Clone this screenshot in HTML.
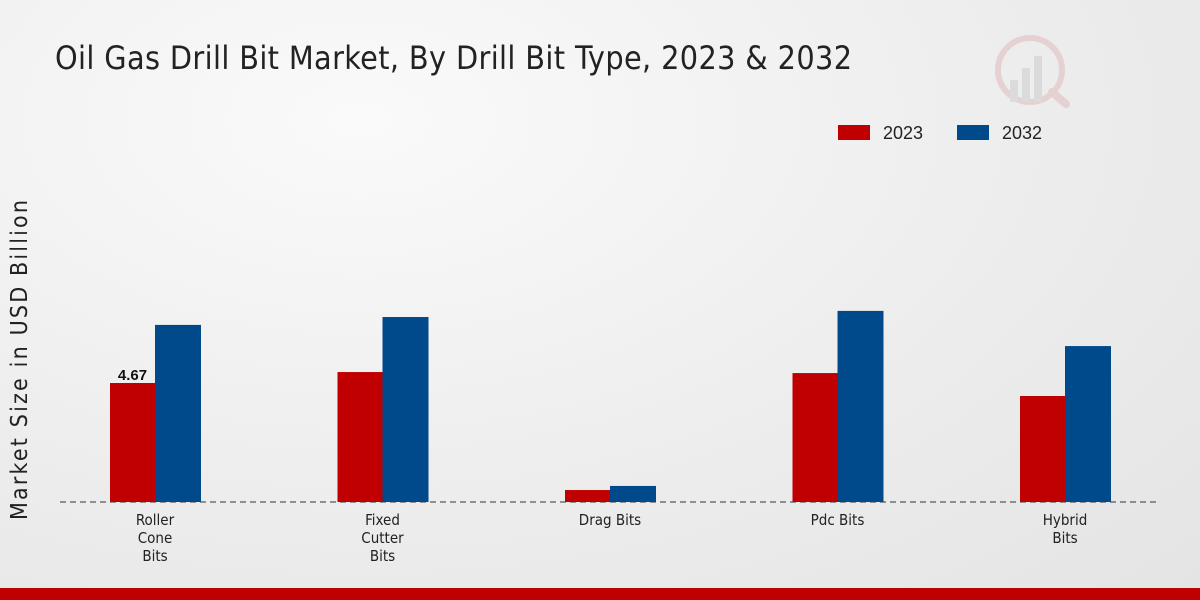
<!DOCTYPE html>
<html><head><meta charset="utf-8"><style>
body{margin:0;width:1200px;height:600px;overflow:hidden;font-family:"Liberation Sans",sans-serif;}
#bg{position:absolute;left:0;top:0;width:1200px;height:600px;background:radial-gradient(ellipse at 30% 20%,#fafafa 0%,#ececec 60%,#e4e4e4 100%);}
</style></head><body>
<div id="bg"></div>
<svg id="c" width="1200" height="600" style="position:absolute;left:0;top:0">
<text x="55" y="69" font-size="32" fill="#222" textLength="797" font-family="DejaVu Sans Condensed, Liberation Sans, sans-serif">Oil Gas Drill Bit Market, By Drill Bit Type, 2023 &amp; 2032</text>
<text transform="translate(27,360) rotate(-90)" text-anchor="middle" font-size="23" fill="#222" textLength="320" font-family="DejaVu Sans Condensed, Liberation Sans, sans-serif">Market Size in USD Billion</text>
<g>
<rect x="838" y="125" width="32" height="15" fill="#c00000"/>
<text x="883" y="139" font-size="18" fill="#222">2023</text>
<rect x="957" y="125" width="32" height="15" fill="#004a8c"/>
<text x="1002" y="139" font-size="18" fill="#222">2032</text>
</g>
<g opacity="0.35">
<circle cx="1030" cy="70" r="32" fill="none" stroke="#d9a0a0" stroke-width="6"/>
<rect x="1010" y="80" width="8" height="22" fill="#bbb"/><rect x="1022" y="68" width="8" height="34" fill="#bbb"/><rect x="1034" y="56" width="8" height="46" fill="#bbb"/>
<line x1="1052" y1="92" x2="1066" y2="104" stroke="#d9a0a0" stroke-width="8" stroke-linecap="round"/>
</g>
<line x1="60" y1="502" x2="1160" y2="502" stroke="#333" stroke-dasharray="6,4"/>
<g id="bars"></g>
<rect x="0" y="588" width="1200" height="12" fill="#c00000"/>
</svg>
<script>
const categories=[["Roller","Cone","Bits"],["Fixed","Cutter","Bits"],["Drag Bits"],["Pdc Bits"],["Hybrid","Bits"]];
const values2023=[4.67,5.1,0.47,5.06,4.16];
const values2032=[6.95,7.26,0.63,7.5,6.12];
const labels2023=["4.67","","","",""];
const ns="http://www.w3.org/2000/svg";
const g=document.getElementById('bars');
const y=v=>502-v*25.48;
const xc=i=>155+i*227.5;
function mk(t,a){const e=document.createElementNS(ns,t);for(const k in a)e.setAttribute(k,a[k]);g.appendChild(e);return e;}
categories.forEach((c,i)=>{
 const r1=mk('rect',{x:xc(i)-45,y:y(values2023[i]),width:45,height:502-y(values2023[i]),fill:'#c00000'});
 
 
 const r2=mk('rect',{x:xc(i),y:y(values2032[i]),width:46,height:502-y(values2032[i]),fill:'#004a8c'});
 
 
 if(labels2023[i]){const t=mk('text',{x:xc(i)-22.5,y:y(values2023[i])-3,'text-anchor':'middle','font-size':15,'font-weight':'bold',fill:'#111'});t.textContent=labels2023[i];
 
 }
 c.forEach((l,j)=>{const t=mk('text',{x:xc(i),y:525+j*18,'text-anchor':'middle','font-size':15,fill:'#222','font-family':'DejaVu Sans Condensed, Liberation Sans, sans-serif'});t.textContent=l;
 
 });
});
</script>
</body></html>
